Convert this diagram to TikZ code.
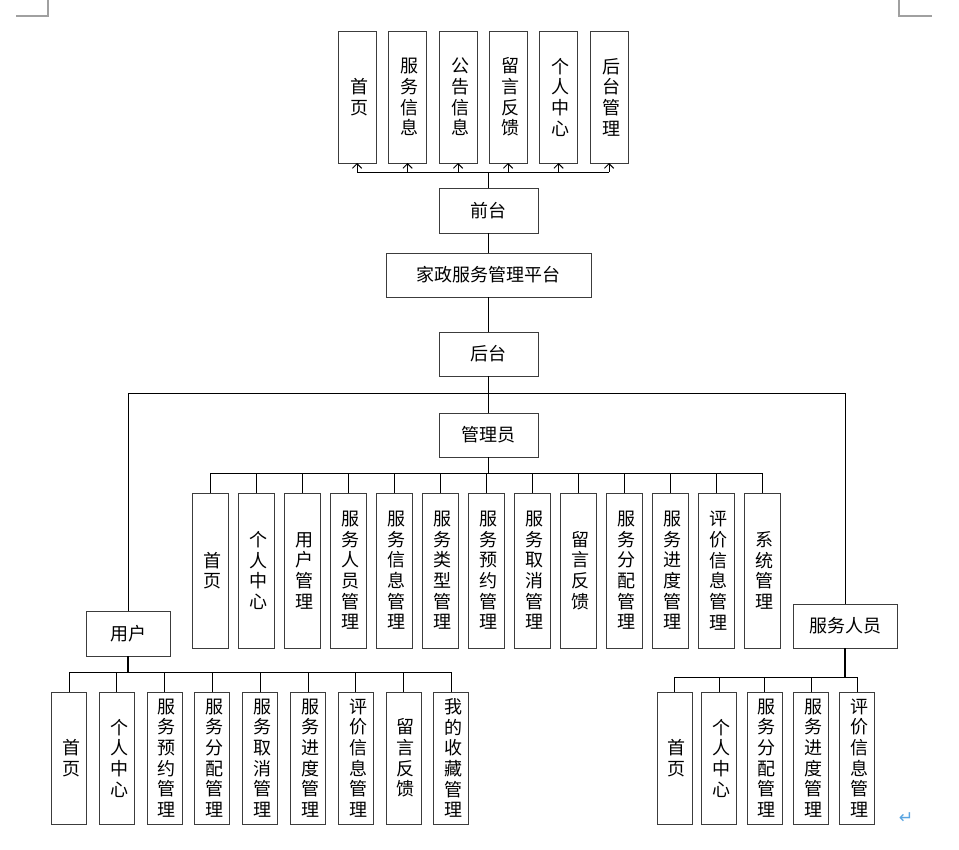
\documentclass[tikz,border=0pt]{standalone}
\usepackage{fontspec}
\usepackage{tikz}
\usetikzlibrary{arrows.meta}
\newfontfamily\cjk{Noto Sans CJK SC}
\newfontfamily\symfont{DejaVu Sans}
\definecolor{cBox}{RGB}{60,60,60}
\definecolor{cMark}{RGB}{160,160,160}
\definecolor{cRet}{RGB}{90,165,225}

\begin{document}
\begin{tikzpicture}[x=0.75pt, y=-0.75pt,
  box/.style={draw=cBox, line width=0.7pt, outer sep=0pt, inner sep=0pt,
    font=\cjk\fontsize{13.5}{15.5}\selectfont, align=center},
  vbox/.style={box, text width=1em},
  link/.style={line width=0.7pt},
  trunk/.style={line width=1.3pt}]
  \useasboundingbox (0,0) rectangle (959,849);
  % Page corner marks
  \draw[cMark, line width=0.8pt] (16,16) -- (48,16) -- (48,0);
  \draw[cMark, line width=0.8pt] (932,16) -- (899,16) -- (899,0);
  % Front end
  \node[vbox, minimum width=28.5pt, minimum height=99pt] (t1) at (357,97) {首\\页};
  \node[vbox, minimum width=28.5pt, minimum height=99pt] (t2) at (407.5,97) {服\\务\\信\\息};
  \node[vbox, minimum width=28.5pt, minimum height=99pt] (t3) at (458,97) {公\\告\\信\\息};
  \node[vbox, minimum width=28.5pt, minimum height=99pt] (t4) at (508,97) {留\\言\\反\\馈};
  \node[vbox, minimum width=28.5pt, minimum height=99pt] (t5) at (558.5,97) {个\\人\\中\\心};
  \node[vbox, minimum width=28.5pt, minimum height=99pt] (t6) at (609,97) {后\\台\\管\\理};
  \node[box, minimum width=74.25pt, minimum height=33.75pt] (qt) at (488.5,210.5) {前台};
  \node[box, minimum width=153.75pt, minimum height=33pt] (pt) at (488.5,275) {家政服务管理平台};
  \node[box, minimum width=74.25pt, minimum height=33pt] (ht) at (488.5,354) {后台};
  \coordinate (qbus) at (488.5,172);
  \draw[trunk] (qt.north) -- (qbus);
  \draw[link] (t1.south |- qbus) -- (t6.south |- qbus);
  \draw[link, -{Straight Barb[length=3.5pt, width=7pt]}] (t1.south |- qbus) -- (t1.south);
  \draw[link, -{Straight Barb[length=3.5pt, width=7pt]}] (t2.south |- qbus) -- (t2.south);
  \draw[link, -{Straight Barb[length=3.5pt, width=7pt]}] (t3.south |- qbus) -- (t3.south);
  \draw[link, -{Straight Barb[length=3.5pt, width=7pt]}] (t4.south |- qbus) -- (t4.south);
  \draw[link, -{Straight Barb[length=3.5pt, width=7pt]}] (t5.south |- qbus) -- (t5.south);
  \draw[link, -{Straight Barb[length=3.5pt, width=7pt]}] (t6.south |- qbus) -- (t6.south);
  \draw[link] (qt.south) -- (pt.north);
  \draw[link] (pt.south) -- (ht.north);
  % Roles
  \node[box, minimum width=74.25pt, minimum height=33pt] (gly) at (488.5,435) {管理员};
  \node[box, minimum width=63pt, minimum height=33.75pt] (yh) at (128,633.5) {用户};
  \node[box, minimum width=78pt, minimum height=33pt] (fw) at (845,626) {服务人员};
  \coordinate (busL) at (128,393);
  \coordinate (busR) at (845,393);
  \draw[link] (ht.south) -- (gly.north);
  \draw[link] (yh.north) -- (busL) -- (busR) -- (fw.north);
  % Administrator
  \node[vbox, minimum width=27pt, minimum height=116.25pt] (a1) at (210.5,570.5) {首\\页};
  \node[vbox, minimum width=27pt, minimum height=116.25pt] (a2) at (256.5,570.5) {个\\人\\中\\心};
  \node[vbox, minimum width=27pt, minimum height=116.25pt] (a3) at (302.5,570.5) {用\\户\\管\\理};
  \node[vbox, minimum width=27pt, minimum height=116.25pt] (a4) at (348.5,570.5) {服\\务\\人\\员\\管\\理};
  \node[vbox, minimum width=27pt, minimum height=116.25pt] (a5) at (394.5,570.5) {服\\务\\信\\息\\管\\理};
  \node[vbox, minimum width=27pt, minimum height=116.25pt] (a6) at (440.5,570.5) {服\\务\\类\\型\\管\\理};
  \node[vbox, minimum width=27pt, minimum height=116.25pt] (a7) at (486.5,570.5) {服\\务\\预\\约\\管\\理};
  \node[vbox, minimum width=27pt, minimum height=116.25pt] (a8) at (532.5,570.5) {服\\务\\取\\消\\管\\理};
  \node[vbox, minimum width=27pt, minimum height=116.25pt] (a9) at (578.5,570.5) {留\\言\\反\\馈};
  \node[vbox, minimum width=27pt, minimum height=116.25pt] (a10) at (624.5,570.5) {服\\务\\分\\配\\管\\理};
  \node[vbox, minimum width=27pt, minimum height=116.25pt] (a11) at (670.5,570.5) {服\\务\\进\\度\\管\\理};
  \node[vbox, minimum width=27pt, minimum height=116.25pt] (a12) at (716.5,570.5) {评\\价\\信\\息\\管\\理};
  \node[vbox, minimum width=27pt, minimum height=116.25pt] (a13) at (762.5,570.5) {系\\统\\管\\理};
  \coordinate (abus) at (488.5,473);
  \draw[trunk] (gly.south) -- (abus);
  \draw[link] (a1.north |- abus) -- (a13.north |- abus);
  \draw[link] (a1.north |- abus) -- (a1.north);
  \draw[link] (a2.north |- abus) -- (a2.north);
  \draw[link] (a3.north |- abus) -- (a3.north);
  \draw[link] (a4.north |- abus) -- (a4.north);
  \draw[link] (a5.north |- abus) -- (a5.north);
  \draw[link] (a6.north |- abus) -- (a6.north);
  \draw[link] (a7.north |- abus) -- (a7.north);
  \draw[link] (a8.north |- abus) -- (a8.north);
  \draw[link] (a9.north |- abus) -- (a9.north);
  \draw[link] (a10.north |- abus) -- (a10.north);
  \draw[link] (a11.north |- abus) -- (a11.north);
  \draw[link] (a12.north |- abus) -- (a12.north);
  \draw[link] (a13.north |- abus) -- (a13.north);
  % User
  \node[vbox, minimum width=26.25pt, minimum height=99pt] (u1) at (69,758) {首\\页};
  \node[vbox, minimum width=26.25pt, minimum height=99pt] (u2) at (116.8,758) {个\\人\\中\\心};
  \node[vbox, minimum width=26.25pt, minimum height=99pt] (u3) at (164.6,758) {服\\务\\预\\约\\管\\理};
  \node[vbox, minimum width=26.25pt, minimum height=99pt] (u4) at (212.4,758) {服\\务\\分\\配\\管\\理};
  \node[vbox, minimum width=26.25pt, minimum height=99pt] (u5) at (260.2,758) {服\\务\\取\\消\\管\\理};
  \node[vbox, minimum width=26.25pt, minimum height=99pt] (u6) at (308,758) {服\\务\\进\\度\\管\\理};
  \node[vbox, minimum width=26.25pt, minimum height=99pt] (u7) at (355.8,758) {评\\价\\信\\息\\管\\理};
  \node[vbox, minimum width=26.25pt, minimum height=99pt] (u8) at (403.6,758) {留\\言\\反\\馈};
  \node[vbox, minimum width=26.25pt, minimum height=99pt] (u9) at (451.4,758) {我\\的\\收\\藏\\管\\理};
  \coordinate (ubus) at (128,672);
  \draw[trunk] (yh.south) -- (ubus);
  \draw[link] (u1.north |- ubus) -- (u9.north |- ubus);
  \draw[link] (u1.north |- ubus) -- (u1.north);
  \draw[link] (u2.north |- ubus) -- (u2.north);
  \draw[link] (u3.north |- ubus) -- (u3.north);
  \draw[link] (u4.north |- ubus) -- (u4.north);
  \draw[link] (u5.north |- ubus) -- (u5.north);
  \draw[link] (u6.north |- ubus) -- (u6.north);
  \draw[link] (u7.north |- ubus) -- (u7.north);
  \draw[link] (u8.north |- ubus) -- (u8.north);
  \draw[link] (u9.north |- ubus) -- (u9.north);
  % Service staff
  \node[vbox, minimum width=26.25pt, minimum height=99pt] (s1) at (674.5,758) {首\\页};
  \node[vbox, minimum width=26.25pt, minimum height=99pt] (s2) at (719,758) {个\\人\\中\\心};
  \node[vbox, minimum width=26.25pt, minimum height=99pt] (s3) at (764.5,758) {服\\务\\分\\配\\管\\理};
  \node[vbox, minimum width=26.25pt, minimum height=99pt] (s4) at (811,758) {服\\务\\进\\度\\管\\理};
  \node[vbox, minimum width=26.25pt, minimum height=99pt] (s5) at (857,758) {评\\价\\信\\息\\管\\理};
  \coordinate (sbus) at (845,677);
  \draw[trunk] (fw.south) -- (sbus);
  \draw[link] (s1.north |- sbus) -- (s5.north |- sbus);
  \draw[link] (s1.north |- sbus) -- (s1.north);
  \draw[link] (s2.north |- sbus) -- (s2.north);
  \draw[link] (s3.north |- sbus) -- (s3.north);
  \draw[link] (s4.north |- sbus) -- (s4.north);
  \draw[link] (s5.north |- sbus) -- (s5.north);
  % Paragraph mark
  \node[text=cRet, font=\symfont\fontsize{13}{13}\selectfont] (ret) at (906,818) {↵};
\end{tikzpicture}
\end{document}
